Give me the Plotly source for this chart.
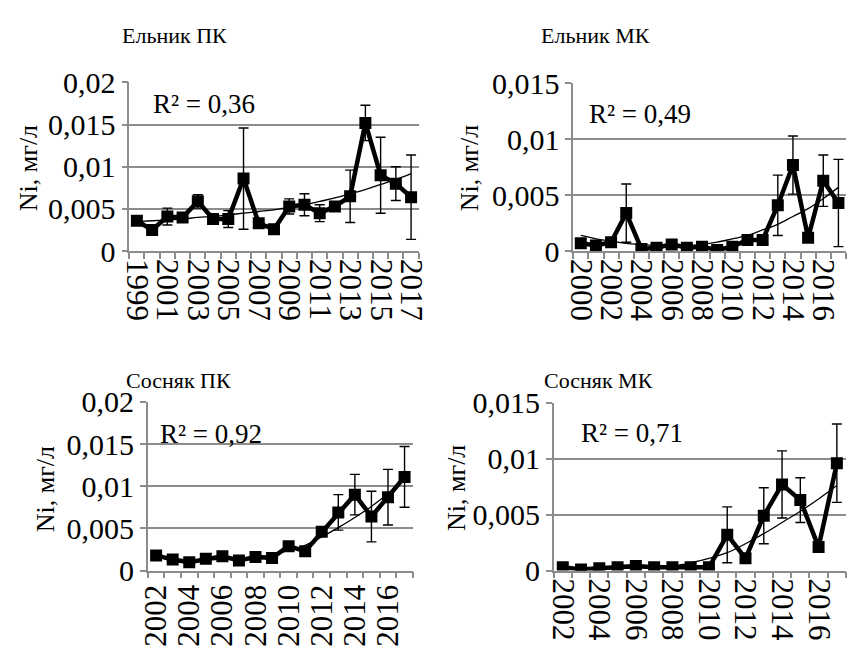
import plotly.graph_objects as go

W, H = 856, 653

# ---------------- data ----------------
titles = ["Ельник ПК", "Ельник МК", "Сосняк ПК", "Сосняк МК"]
r2_labels = ["R² = 0,36", "R² = 0,49", "R² = 0,92", "R² = 0,71"]
y_title = "Ni, мг/л"

years1 = list(range(1999, 2018))
vals1 = [0.0036, 0.0025, 0.0041, 0.0040, 0.0059, 0.0038, 0.0038, 0.0086, 0.0033, 0.0026,
         0.0053, 0.0055, 0.0045, 0.0053, 0.0065, 0.0152, 0.0090, 0.0080, 0.0064]
err1 = [0.0003, 0.0002, 0.0010, 0.0003, 0.0008, 0.0006, 0.0010, 0.0060, 0.0003, 0.0002,
        0.0009, 0.0013, 0.0010, 0.0003, 0.0031, 0.0021, 0.0045, 0.0020, 0.0050]
trend1 = [0.0035, 0.0036, 0.0037, 0.0038, 0.0040, 0.0041, 0.0043, 0.0045, 0.0047, 0.0049,
          0.0052, 0.0055, 0.0059, 0.0063, 0.0068, 0.0073, 0.0079, 0.0085, 0.0092]
xticks1 = [1999, 2001, 2003, 2005, 2007, 2009, 2011, 2013, 2015, 2017]

years2 = list(range(2000, 2018))
vals2 = [0.0007, 0.0005, 0.0008, 0.0034, 0.0002, 0.0003, 0.0006, 0.0003, 0.0004, 0.0001,
         0.0004, 0.0010, 0.0010, 0.0041, 0.0077, 0.0012, 0.0063, 0.0043]
err2 = [0.0002, 0.0001, 0.0002, 0.0026, 0.0001, 0.0001, 0.0001, 0.0001, 0.0001, 0.0001,
        0.0001, 0.0002, 0.0002, 0.0027, 0.0026, 0.0002, 0.0023, 0.0039]
trend2 = [0.0014, 0.0011, 0.0009, 0.0007, 0.0006, 0.0005, 0.0005, 0.0005, 0.0006, 0.0008,
          0.0011, 0.0014, 0.0019, 0.0024, 0.0031, 0.0038, 0.0047, 0.0057]
xticks2 = [2000, 2002, 2004, 2006, 2008, 2010, 2012, 2014, 2016]

years3 = list(range(2002, 2018))
vals3 = [0.0018, 0.0013, 0.0010, 0.0014, 0.0017, 0.0012, 0.0016, 0.0015, 0.0029, 0.0023,
         0.0046, 0.0069, 0.0090, 0.0064, 0.0087, 0.0111]
err3 = [0.0002, 0.0002, 0.0002, 0.0002, 0.0005, 0.0002, 0.0005, 0.0002, 0.0002, 0.0005,
        0.0003, 0.0021, 0.0024, 0.0030, 0.0033, 0.0036]
trend3 = [0.0016, 0.0014, 0.0013, 0.0013, 0.0013, 0.0014, 0.0016, 0.0019, 0.0024, 0.0030,
          0.0040, 0.0051, 0.0063, 0.0076, 0.0091, 0.0107]
xticks3 = [2002, 2004, 2006, 2008, 2010, 2012, 2014, 2016]

years4 = list(range(2002, 2018))
vals4 = [0.0003, 0.0001, 0.0002, 0.0003, 0.0004, 0.0003, 0.0003, 0.0003, 0.0003, 0.0032,
         0.0011, 0.0049, 0.0077, 0.0063, 0.0021, 0.0096]
err4 = [0.0001, 0.0001, 0.0001, 0.0001, 0.0001, 0.0001, 0.0001, 0.0001, 0.0001, 0.0025,
        0.0003, 0.0025, 0.0030, 0.0020, 0.0004, 0.0035]
trend4 = [0.0002, 0.0002, 0.0002, 0.0002, 0.0002, 0.0003, 0.0004, 0.0007, 0.0011, 0.0016,
          0.0024, 0.0033, 0.0043, 0.0053, 0.0064, 0.0076]
xticks4 = [2002, 2004, 2006, 2008, 2010, 2012, 2014, 2016]

ymax = [0.02, 0.015, 0.02, 0.015]
yticks_a = [0, 0.005, 0.01, 0.015, 0.02]
yticktext_a = ["0", "0,005", "0,01", "0,015", "0,02"]
yticks_b = [0, 0.005, 0.01, 0.015]
yticktext_b = ["0", "0,005", "0,01", "0,015"]

# ---------------- layout (pixel boxes) ----------------
FONT = "Liberation Serif"
GRID = "#8c8c8c"
panels = [
    dict(years=years1, vals=vals1, err=err1, trend=trend1, xt=xticks1, box=(123, 419, 69, 247),
         angle=90, yt=yticks_a, ytt=yticktext_a, title_xy=(169, 20), r2_xy=(199, 92), yl_xy=(20, 160)),
    dict(years=years2, vals=vals2, err=err2, trend=trend2, xt=xticks2, box=(577, 856, 70, 247),
         angle=90, yt=yticks_b, ytt=yticktext_b, title_xy=(600, 20), r2_xy=(645, 102), yl_xy=(471, 160)),
    dict(years=years3, vals=vals3, err=err3, trend=trend3, xt=xticks3, box=(142, 413, 406, 584),
         angle=-90, yt=yticks_a, ytt=yticktext_a, title_xy=(173, 383), r2_xy=(207, 440), yl_xy=(37, 498)),
    dict(years=years4, vals=vals4, err=err4, trend=trend4, xt=xticks4, box=(557, 856, 407, 584),
         angle=90, yt=yticks_b, ytt=yticktext_b, title_xy=(603, 383), r2_xy=(637, 439), yl_xy=(457, 497)),
]

fig = go.Figure()
annotations = []
for i, p in enumerate(panels):
    n = "" if i == 0 else str(i + 1)
    xa, ya = "x" + n, "y" + n
    x0, x1, ytop, ybot = p["box"]
    fig.add_trace(go.Scatter(
        x=p["years"], y=p["trend"], mode="lines", line=dict(color="black", width=1.3, shape="spline"),
        xaxis=xa, yaxis=ya, showlegend=False, hoverinfo="skip"))
    fig.add_trace(go.Scatter(
        x=p["years"], y=p["vals"], mode="lines+markers",
        line=dict(color="black", width=4.5),
        marker=dict(symbol="square", size=12, color="black"),
        error_y=dict(type="data", array=p["err"], visible=True, color="black", thickness=1.4, width=5),
        xaxis=xa, yaxis=ya, showlegend=False))
    yrs = p["years"]
    fig.layout["xaxis" + n] = dict(
        domain=[x0 / W, x1 / W], anchor=ya, range=[yrs[0] - 0.5, yrs[-1] + 0.5],
        tickmode="array", tickvals=p["xt"], ticktext=[str(v) for v in p["xt"]],
        ticks="", tickangle=p["angle"], showgrid=False, zeroline=False,
        showline=True, linecolor=GRID, linewidth=1.5,
        tickfont=dict(family=FONT, size=31, color="black"),
        minor=dict(ticks="outside", tick0=yrs[0] - 0.5, dtick=1, ticklen=6,
                   tickcolor=GRID, tickwidth=1.5, showgrid=False),
        fixedrange=True)
    fig.layout["yaxis" + n] = dict(
        domain=[1 - ybot / H, 1 - ytop / H], anchor=xa, range=[0, ymax[i]],
        tickmode="array", tickvals=p["yt"], ticktext=p["ytt"],
        ticks="outside", ticklen=6, tickcolor=GRID, tickwidth=1.5,
        showgrid=True, gridcolor=GRID, gridwidth=1.5, zeroline=False,
        showline=True, linecolor=GRID, linewidth=1.5,
        tickfont=dict(family=FONT, size=30, color="black"),
        fixedrange=True)
    tx, ty = p["title_xy"]
    annotations.append(dict(text=titles[i], x=tx / W, y=1 - ty / H, xref="paper", yref="paper",
                            showarrow=False, font=dict(family=FONT, size=22, color="black"),
                            xanchor="center", yanchor="middle"))
    rx, ry = p["r2_xy"]
    annotations.append(dict(text=r2_labels[i], x=rx / W, y=1 - ry / H, xref="paper", yref="paper",
                            showarrow=False, font=dict(family=FONT, size=27, color="black"),
                            xanchor="center", yanchor="middle"))
    lx, ly = p["yl_xy"]
    annotations.append(dict(text=y_title, x=lx / W, y=1 - ly / H, xref="paper", yref="paper",
                            showarrow=False, textangle=-90, font=dict(family=FONT, size=26, color="black"),
                            xanchor="center", yanchor="middle"))

fig.update_layout(
    width=W, height=H, margin=dict(l=0, r=0, t=0, b=0),
    paper_bgcolor="white", plot_bgcolor="white",
    font=dict(family=FONT, color="black"),
    annotations=annotations, showlegend=False, separators=", ",
)

fig.write_html("out.html", config={"displayModeBar": False})
